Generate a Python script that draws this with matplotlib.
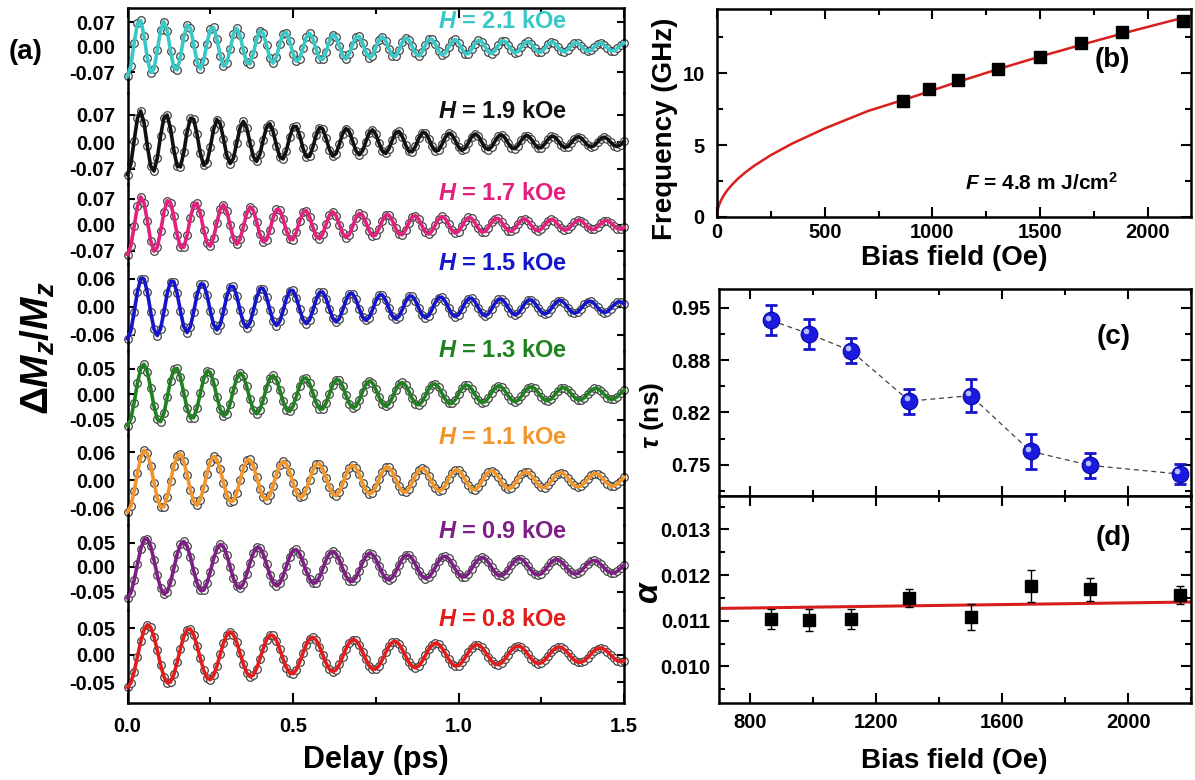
import numpy as np
import matplotlib
matplotlib.use("Agg")
import matplotlib.pyplot as plt
from matplotlib import transforms
from matplotlib.ticker import MultipleLocator, FixedLocator, FormatStrFormatter

W, H = 1195, 780
plt.rcParams['font.family'] = ['Liberation Sans', 'DejaVu Sans']
plt.rcParams['font.weight'] = 'bold'
plt.rcParams['axes.unicode_minus'] = False
plt.rcParams['mathtext.fontset'] = 'custom'
plt.rcParams['mathtext.rm'] = 'Liberation Sans:bold'
plt.rcParams['mathtext.it'] = 'Liberation Sans:italic:bold'
plt.rcParams['mathtext.bf'] = 'Liberation Sans:bold'

# ---- data (a): damped precession, fit parameters (b), (c)
fields_koe = ['2.1', '1.9', '1.7', '1.5', '1.3', '1.1', '0.9', '0.8']
trace_colors = ['#38C8C8', '#111111', '#E2217F', '#1515CC', '#1F821F', '#F2952B', '#7E1F86', '#E31C1C']
trace_freq = [13.65, 12.85, 12.1, 11.1, 10.25, 9.55, 8.87, 8.05]       # GHz
trace_tau = [0.738, 0.749, 0.767, 0.838, 0.831, 0.895, 0.917, 0.934]   # ns
trace_amp = [0.082, 0.085, 0.080, 0.068, 0.062, 0.068, 0.063, 0.060]
trace_tick = [0.07, 0.07, 0.07, 0.06, 0.05, 0.06, 0.05, 0.05]
delay = np.arange(0, 1.5001, 0.01)

# ---- data (b)
bias = [865, 985, 1120, 1305, 1500, 1690, 1880, 2165]
freq = [8.05, 8.87, 9.55, 10.25, 11.1, 12.1, 12.85, 13.65]
fit_h = [0, 2, 5, 10, 15, 25, 35, 50, 75, 100, 135, 175, 250, 350, 500, 700, 900, 1100, 1300,
         1500, 1700, 1900, 2100, 2200]
fit_f = [0, 0.38, 0.60, 0.85, 1.04, 1.34, 1.59, 1.90, 2.33, 2.70, 3.14, 3.58, 4.30, 5.11, 6.15,
         7.36, 8.30, 9.30, 10.25, 11.15, 12.0, 12.82, 13.6, 13.95]

# ---- data (c)
tau = [0.934, 0.917, 0.895, 0.831, 0.838, 0.767, 0.749, 0.738]
tau_err = [0.019, 0.019, 0.016, 0.016, 0.021, 0.022, 0.016, 0.013]

# ---- data (d)
alpha = [0.01104, 0.01102, 0.01104, 0.01150, 0.01108, 0.01176, 0.01169, 0.01156]
alpha_err = [0.00022, 0.00024, 0.00022, 0.00020, 0.00028, 0.00034, 0.00025, 0.00020]
alpha_fit_h = [700, 2200]
alpha_fit = [0.01127, 0.01141]

fig = plt.figure(figsize=(W / 100, H / 100), dpi=100)


def rect(x0, y0, x1, y1):
    return [x0 / W, 1 - y1 / H, (x1 - x0) / W, (y1 - y0) / H]


def fx(px):
    return px / W


def fy(py):
    return 1 - py / H


SPW = 1.8

# ---------------- panel (a)
bands = [(8, 93), (93, 184), (184, 264), (264, 351), (351, 435), (435, 525), (525, 610), (610, 703)]
zeros = [47, 142, 225, 307, 394, 480, 567, 655]
tick_px = [25, 27, 26, 28, 25.5, 28, 24.5, 27]
label_y = [22, 112, 193, 263, 351, 437, 532, 620]

for i in range(8):
    top, bot = bands[i]
    ax = fig.add_axes(rect(127.5, top, 624, bot))
    s = tick_px[i] / trace_tick[i]
    ax.set_ylim(-(bot - zeros[i]) / s, (zeros[i] - top) / s)
    ax.set_xlim(0, 1.5)
    sig = -trace_amp[i] * np.cos(2 * np.pi * trace_freq[i] * delay) * np.exp(-delay / trace_tau[i])
    ax.plot(delay, sig, 'o', ms=5.5, mfc='white', mec='#444444', mew=0.9, clip_on=False, zorder=2)
    ax.plot(delay, sig, '-', color=trace_colors[i], lw=2.6, clip_on=False, zorder=3)
    t = trace_tick[i]
    ax.set_yticks([-t, 0, t])
    ax.yaxis.set_major_formatter(FormatStrFormatter('%.2f'))
    ax.tick_params(axis='y', direction='in', length=5, width=1.5, left=True, right=True,
                   labelsize=14.5, pad=9)
    for sp in ax.spines.values():
        sp.set_linewidth(SPW)
    ax.spines['top'].set_visible(i == 0)
    ax.spines['bottom'].set_visible(i == 7)
    ax.xaxis.set_major_locator(MultipleLocator(0.5))
    ax.xaxis.set_minor_locator(MultipleLocator(0.25))
    ax.tick_params(axis='x', which='both', direction='in', width=1.5,
                   top=(i == 0), bottom=(i == 7), labelbottom=(i == 7), labelsize=14.5, pad=10)
    ax.tick_params(axis='x', which='major', length=7)
    ax.tick_params(axis='x', which='minor', length=4)
    ax.set_facecolor('none')
    fig.text(fx(503), fy(label_y[i]), r'$H$ = ' + fields_koe[i] + ' kOe', color=trace_colors[i],
             fontsize=17, ha='center', va='center')

fig.text(fx(26), fy(52), '(a)', fontsize=20, ha='center', va='center')
fig.text(fx(376), fy(760), 'Delay (ps)', fontsize=22, ha='center', va='center')
fig.text(fx(38), fy(348), r'$\Delta M_z/M_z$', fontsize=28, rotation=90, ha='center', va='center')


def style(ax):
    for sp in ax.spines.values():
        sp.set_linewidth(SPW)
    ax.tick_params(which='both', direction='in', width=1.5, top=True, right=True, labelsize=14.5)
    ax.tick_params(which='major', length=7)
    ax.tick_params(which='minor', length=4)


# ---------------- panel (b)
axb = fig.add_axes(rect(717, 9, 1191, 217))
axb.plot(fit_h, fit_f, '-', color='#D91E1E', lw=1.8, zorder=2)
axb.plot(bias, freq, 's', color='black', ms=8.5, zorder=3)
axb.set_xlim(0, 2200)
axb.set_ylim(0, 14.45)
axb.xaxis.set_major_locator(MultipleLocator(500))
axb.xaxis.set_minor_locator(MultipleLocator(250))
axb.yaxis.set_major_locator(MultipleLocator(5))
axb.yaxis.set_minor_locator(MultipleLocator(2.5))
style(axb)
axb.tick_params(axis='x', pad=4)
axb.tick_params(axis='y', pad=9)
fig.text(fx(1041), fy(183), r'$F$ = 4.8 m J/cm$^2$', fontsize=15, ha='center', va='center')
fig.text(fx(1112), fy(60), '(b)', fontsize=20, ha='center', va='center')
fig.text(fx(954), fy(258), 'Bias field (Oe)', fontsize=20, ha='center', va='center')
fig.text(fx(665), fy(129), 'Frequency (GHz)', fontsize=20, rotation=90, ha='center', va='center')

# ---------------- panel (c)
axc = fig.add_axes(rect(719, 289, 1191, 496))
axc.plot(bias, tau, '--', color='#444444', lw=0.9, dashes=(4, 3), zorder=1)
axc.errorbar(bias, tau, yerr=tau_err, fmt='none', ecolor='#1515CC', elinewidth=2, capsize=4,
             capthick=2, zorder=2)
axc.plot(bias, tau, 'o', ms=12, color='#1A1AE0', mec='#0A0A9A', mew=0.8, zorder=3)
hl = transforms.offset_copy(axc.transData, fig=fig, x=-2, y=2, units='points')
axc.plot(bias, tau, 'o', ms=4, color='#C8D2FF', mec='none', alpha=0.9, transform=hl, zorder=4)
axc.set_xlim(700, 2200)
axc.set_ylim(0.71, 0.974)
cticks = [0.75, 0.75 + 0.2 / 3, 0.75 + 0.4 / 3, 0.95]
axc.yaxis.set_major_locator(FixedLocator(cticks))
axc.set_yticklabels(['0.75', '0.82', '0.88', '0.95'])
axc.yaxis.set_minor_locator(FixedLocator([0.75 - 0.1 / 3, 0.75 + 0.1 / 3, 0.75 + 0.1, 0.75 + 0.5 / 3]))
axc.xaxis.set_major_locator(MultipleLocator(400))
axc.xaxis.set_minor_locator(MultipleLocator(200))
style(axc)
axc.tick_params(axis='x', labelbottom=False)
axc.tick_params(axis='y', pad=6)
fig.text(fx(1114), fy(337), '(c)', fontsize=20, ha='center', va='center')
fig.text(fx(652), fy(415), r'$\tau$ (ns)', fontsize=19, rotation=90, ha='center', va='center')

# ---------------- panel (d)
axd = fig.add_axes(rect(719, 496, 1191, 703))
axd.plot(alpha_fit_h, alpha_fit, '-', color='#D91E1E', lw=2.2, zorder=2)
axd.errorbar(bias, alpha, yerr=alpha_err, fmt='none', ecolor='black', elinewidth=1, capsize=3,
             capthick=1, zorder=3)
axd.plot(bias, alpha, 's', color='black', ms=8, zorder=4)
axd.set_xlim(700, 2200)
axd.set_ylim(0.0092, 0.01373)
axd.yaxis.set_major_locator(MultipleLocator(0.001))
axd.yaxis.set_minor_locator(MultipleLocator(0.0005))
axd.yaxis.set_major_formatter(FormatStrFormatter('%.3f'))
axd.xaxis.set_major_locator(MultipleLocator(400))
axd.xaxis.set_minor_locator(MultipleLocator(200))
style(axd)
axd.tick_params(axis='x', pad=7)
axd.tick_params(axis='y', pad=6)
fig.text(fx(1113), fy(538), '(d)', fontsize=20, ha='center', va='center')
fig.text(fx(954), fy(761), 'Bias field (Oe)', fontsize=20, ha='center', va='center')
fig.text(fx(650), fy(592), r'$\alpha$', fontsize=24, rotation=90, ha='center', va='center')

fig.savefig('out.png', dpi=100)
